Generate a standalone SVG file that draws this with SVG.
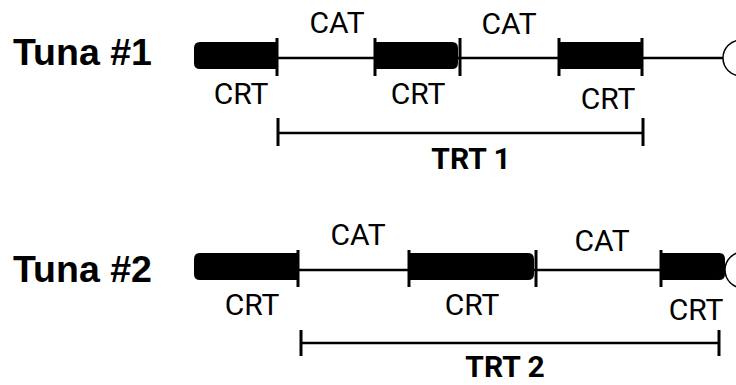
<svg xmlns="http://www.w3.org/2000/svg" width="736" height="385" viewBox="0 0 736 385">
<style>
.lbl{font-family:Roboto,"Liberation Sans",Arial,sans-serif;font-size:30px;fill:#000;text-anchor:middle}
.trt{font-family:Roboto,"Liberation Sans",Arial,sans-serif;font-size:30px;font-weight:bold;fill:#000;text-anchor:middle}
.tuna{font-family:"Liberation Sans",Arial,sans-serif;font-size:37.5px;font-weight:bold;fill:#000}
.ln{stroke:#000;stroke-width:2.5;fill:none}
.tk{stroke:#000;stroke-width:3;fill:none}
.bar{fill:#000}
.end{fill:#fff;stroke:#000;stroke-width:1.5}
</style>
<rect width="736" height="385" fill="#fff"/>
<g id="connectors">
  <line class="ln" x1="277" y1="58" x2="723" y2="58"/>
  <line class="ln" x1="298" y1="270" x2="725" y2="270"/>
  <line class="ln" x1="278" y1="133" x2="643" y2="133"/>
  <line class="ln" x1="301" y1="343" x2="719" y2="343"/>
</g>
<g id="tuna1">
  <text class="tuna" x="13" y="65">Tuna #1</text>
  <path class="bar" d="M200,42 H276 V69 H200 Q194,69 194,63 V48 Q194,42 200,42 Z"/>
  <line class="tk" x1="277" y1="38" x2="277" y2="76"/>
  <path class="bar" d="M375,42 H452 Q458,42 458,48 V63 Q458,69 452,69 H375 Z"/>
  <line class="tk" x1="375" y1="38" x2="375" y2="76"/>
  <line class="tk" x1="460" y1="38" x2="460" y2="76"/>
  <rect class="bar" x="559" y="42" width="83" height="27"/>
  <line class="tk" x1="559" y1="38" x2="559" y2="76"/>
  <line class="tk" x1="642" y1="38" x2="642" y2="76"/>
  <circle class="end" cx="741" cy="58" r="18"/>
  <text class="lbl" x="337" y="33">CAT</text>
  <text class="lbl" x="509" y="34">CAT</text>
  <text class="lbl" x="241" y="104">CRT</text>
  <text class="lbl" x="418" y="104">CRT</text>
  <text class="lbl" x="608" y="109">CRT</text>
</g>
<g id="trt1">
  <line class="tk" x1="278" y1="118" x2="278" y2="146"/>
  <line class="tk" x1="643" y1="118" x2="643" y2="146"/>
  <text class="trt" x="471" y="169">TRT 1</text>
</g>
<g id="tuna2">
  <text class="tuna" x="13" y="282">Tuna #2</text>
  <path class="bar" d="M200,253 H297 V280 H200 Q194,280 194,274 V259 Q194,253 200,253 Z"/>
  <line class="tk" x1="298" y1="250" x2="298" y2="287"/>
  <path class="bar" d="M409,253 H528 Q534,253 534,259 V274 Q534,280 528,280 H409 Z"/>
  <line class="tk" x1="409" y1="250" x2="409" y2="287"/>
  <line class="tk" x1="536" y1="250" x2="536" y2="287"/>
  <circle class="end" cx="743" cy="270" r="18"/>
  <path class="bar" d="M661,253 H719 Q725,253 725,259 V274 Q725,280 719,280 H661 Z"/>
  <line class="tk" x1="661" y1="250" x2="661" y2="287"/>
  <text class="lbl" x="358" y="245">CAT</text>
  <text class="lbl" x="602" y="251">CAT</text>
  <text class="lbl" x="252" y="315">CRT</text>
  <text class="lbl" x="472" y="315">CRT</text>
  <text class="lbl" x="696" y="320">CRT</text>
</g>
<g id="trt2">
  <line class="tk" x1="301" y1="330" x2="301" y2="356"/>
  <line class="tk" x1="719" y1="330" x2="719" y2="356"/>
  <text class="trt" x="505" y="377">TRT 2</text>
</g>
</svg>
